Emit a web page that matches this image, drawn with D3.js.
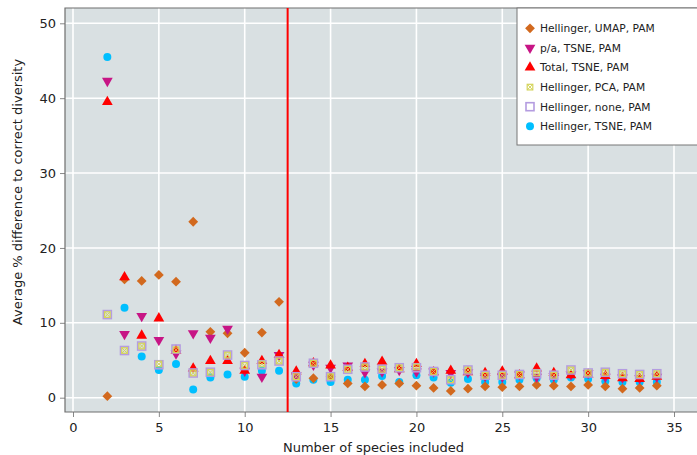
<!DOCTYPE html>
<html>
<head>
<meta charset="utf-8">
<script src="https://cdn.jsdelivr.net/npm/d3@7"></script>
<style>
    body { margin: 0; background: #fff; }
    text { font-family: "DejaVu Sans", Verdana, sans-serif; fill: #222; }
</style>
</head>
<body>
<div class="graph"></div>
<script>
// data ------------------

const species = [2, 3, 4, 5, 6, 7, 8, 9, 10, 11, 12, 13, 14, 15, 16, 17, 18,
    19, 20, 21, 22, 23, 24, 25, 26, 27, 28, 29, 30, 31, 32, 33, 34]

const umapPam = [0.2, 15.8, 15.6, 16.4, 15.5, 23.5, 8.8, 8.6, 6.0, 8.7, 12.8, 2.5, 2.6, 2.8, 1.9, 1.5, 1.7,
    1.9, 1.6, 1.3, 0.9, 1.2, 1.5, 1.4, 1.5, 1.7, 1.6, 1.5, 1.7, 1.5, 1.2, 1.3, 1.6]
const paTsne = [42.3, 8.5, 10.9, 7.7, 5.9, 8.6, 8.0, 9.2, 3.6, 2.8, 5.7, 3.0, 4.4, 4.0, 4.3, 3.4, 3.5,
    3.7, 3.5, 3.5, 3.3, 3.4, 2.9, 2.8, 3.1, 2.8, 2.9, 3.1, 3.3, 2.8, 2.7, 2.6, 2.8]
const totalTsne = [39.5, 16.1, 8.3, 10.6, 6.3, 3.9, 4.9, 4.9, 3.6, 4.9, 5.7, 3.5, 4.6, 4.3, 4.0, 4.5, 4.8,
    3.8, 4.5, 3.4, 3.6, 3.4, 3.3, 3.5, 3.0, 3.9, 3.3, 3.0, 3.1, 2.9, 2.6, 2.5, 2.8]
const pcaPam = [11.1, 6.3, 6.9, 4.5, 6.4, 3.3, 3.4, 5.7, 4.3, 4.5, 4.9, 2.8, 4.6, 2.8, 3.8, 4.1, 3.8,
    4.0, 4.1, 3.5, 2.4, 3.7, 3.0, 3.0, 3.1, 3.3, 3.0, 3.7, 3.3, 3.4, 3.2, 3.1, 3.2]
const nonePam = [11.1, 6.3, 6.9, 4.4, 6.5, 3.3, 3.4, 5.7, 4.3, 4.4, 4.9, 2.8, 4.6, 2.8, 3.8, 4.1, 3.8,
    4.0, 4.0, 3.5, 2.4, 3.7, 3.0, 3.0, 3.1, 3.2, 3.0, 3.7, 3.3, 3.4, 3.2, 3.1, 3.2]
const hellTsne = [45.5, 12.0, 5.5, 3.7, 4.5, 1.1, 2.7, 3.1, 2.8, 3.6, 3.6, 1.9, 2.4, 2.1, 2.4, 2.4, 2.9,
    2.1, 3.0, 2.7, 2.0, 2.5, 2.1, 2.1, 2.4, 2.6, 2.4, 2.7, 2.5, 2.2, 2.1, 2.1, 2.1]

const xTicks = [0, 5, 10, 15, 20, 25, 30, 35]
const yTicks = [0, 10, 20, 30, 40, 50]
const cutoff = 12.5

// series, in legend order
const series = [
    {name: "Hellinger, UMAP, PAM", values: umapPam, shape: "diamond", colour: "#d2691e"},
    {name: "p/a, TSNE, PAM", values: paTsne, shape: "down", colour: "#c71585"},
    {name: "Total, TSNE, PAM", values: totalTsne, shape: "up", colour: "#ff0000"},
    {name: "Hellinger, PCA, PAM", values: pcaPam, shape: "xsquare", colour: "#d4d45a"},
    {name: "Hellinger, none, PAM", values: nonePam, shape: "square", colour: "#b49ce0"},
    {name: "Hellinger, TSNE, PAM", values: hellTsne, shape: "circle", colour: "#00bfff"}
]
// drawing order (last on top)
const drawOrder = [5, 0, 1, 2, 4, 3]

// config ------------------

const w = 697
const h = 455
const plot = {left: 65, right: 700, top: 8, bottom: 412}

const xScale = d3.scaleLinear().domain([0, 35]).range([73, 674])
const yScale = d3.scaleLinear().domain([0, 50]).range([397.7, 23.3])

const svg = d3.select('.graph')
    .append('svg')
    .attr('width', w)
    .attr('height', h)

// panel background
svg.append('rect')
    .attr('x', plot.left)
    .attr('y', plot.top)
    .attr('width', plot.right - plot.left)
    .attr('height', plot.bottom - plot.top)
    .attr('fill', '#d9e0e2')

// grid
svg.append('g')
    .selectAll('line')
    .data(xTicks)
    .join('line')
    .attr('x1', d => xScale(d)).attr('x2', d => xScale(d))
    .attr('y1', plot.top).attr('y2', plot.bottom)
    .attr('stroke', '#fff').attr('stroke-width', 1.6)

svg.append('g')
    .selectAll('line')
    .data(yTicks)
    .join('line')
    .attr('x1', plot.left).attr('x2', plot.right)
    .attr('y1', d => yScale(d)).attr('y2', d => yScale(d))
    .attr('stroke', '#fff').attr('stroke-width', 1.6)

// axes
const xAxis = d3.axisBottom(xScale).tickValues(xTicks).tickSize(5).tickSizeOuter(0).tickPadding(6)
const yAxis = d3.axisLeft(yScale).tickValues(yTicks).tickSize(5).tickSizeOuter(0).tickPadding(4)

const gx = svg.append('g')
    .attr('transform', 'translate(0,' + plot.bottom + ')')
    .call(xAxis)
const gy = svg.append('g')
    .attr('transform', 'translate(' + plot.left + ',0)')
    .call(yAxis)

for (const g of [gx, gy]) {
    g.select('.domain').remove()
    g.selectAll('.tick line').attr('stroke', '#888')
    g.selectAll('.tick text')
        .style('font-family', '"DejaVu Sans", Verdana, sans-serif')
        .style('font-size', '13px')
        .attr('fill', '#222')
}

// frame lines
svg.append('path')
    .attr('d', 'M' + plot.right + ',' + plot.top + 'H' + plot.left + 'V' + plot.bottom + 'H' + plot.right)
    .attr('fill', 'none')
    .attr('stroke', '#6e6e6e')
    .attr('stroke-width', 1.2)

// cut-off line
svg.append('line')
    .attr('x1', xScale(cutoff)).attr('x2', xScale(cutoff))
    .attr('y1', plot.top).attr('y2', plot.bottom)
    .attr('stroke', '#ff0000')
    .attr('stroke-width', 2)

// axis titles
svg.append('text')
    .attr('x', xScale(17.5))
    .attr('y', 452)
    .attr('text-anchor', 'middle')
    .style('font-size', '13px')
    .text('Number of species included')

svg.append('text')
    .attr('transform', 'translate(22,192) rotate(-90)')
    .attr('text-anchor', 'middle')
    .style('font-size', '13px')
    .text('Average % difference to correct diversity')

// marker drawing
function drawMarker(sel, s) {
    if (s.shape === 'circle') {
        sel.append('circle').attr('r', 4).attr('fill', s.colour)
    } else if (s.shape === 'diamond') {
        // square turned by 45 degrees, as wide as it is tall
        sel.append('path')
            .attr('d', d3.symbol(d3.symbolSquare, 48))
            .attr('transform', 'rotate(45)')
            .attr('fill', s.colour)
    } else if (s.shape === 'up' || s.shape === 'down') {
        sel.append('path')
            .attr('d', d3.symbol(d3.symbolTriangle, 50))
            .attr('transform', s.shape === 'down' ? 'rotate(180)' : null)
            .attr('fill', s.colour)
    } else if (s.shape === 'square') {
        sel.append('rect')
            .attr('x', -4).attr('y', -4).attr('width', 8).attr('height', 8)
            .attr('fill', 'none').attr('stroke', s.colour).attr('stroke-width', 1.6)
    } else if (s.shape === 'xsquare') {
        sel.append('rect')
            .attr('x', -2.8).attr('y', -2.8).attr('width', 5.6).attr('height', 5.6)
            .attr('fill', 'none').attr('stroke', s.colour).attr('stroke-width', 1.2)
        sel.append('path')
            .attr('d', 'M-2.8,-2.8L2.8,2.8M-2.8,2.8L2.8,-2.8')
            .attr('stroke', s.colour).attr('stroke-width', 1)
    }
}

// points
const points = svg.append('g').attr('id', 'graph-points')
for (const i of drawOrder) {
    const s = series[i]
    points.append('g')
        .selectAll('g')
        .data(species.map((n, j) => ({n: n, v: s.values[j]})))
        .join('g')
        .attr('transform', d => 'translate(' + xScale(d.n) + ',' + yScale(d.v) + ')')
        .each(function () { drawMarker(d3.select(this), s) })
}

// legend
const legend = svg.append('g')
legend.append('rect')
    .attr('x', 517).attr('y', plot.top)
    .attr('width', 200).attr('height', 137)
    .attr('fill', '#fff')
    .attr('stroke', '#777')

const items = legend.selectAll('g.item')
    .data(series)
    .join('g')
    .attr('class', 'item')
    .attr('transform', (d, i) => 'translate(530,' + (28.3 + i * 19.6) + ')')

items.each(function (d) { drawMarker(d3.select(this), d) })
items.append('text')
    .attr('x', 10)
    .attr('dy', '0.36em')
    .style('font-size', '10.7px')
    .text(d => d.name)
</script>
</body>
</html>
